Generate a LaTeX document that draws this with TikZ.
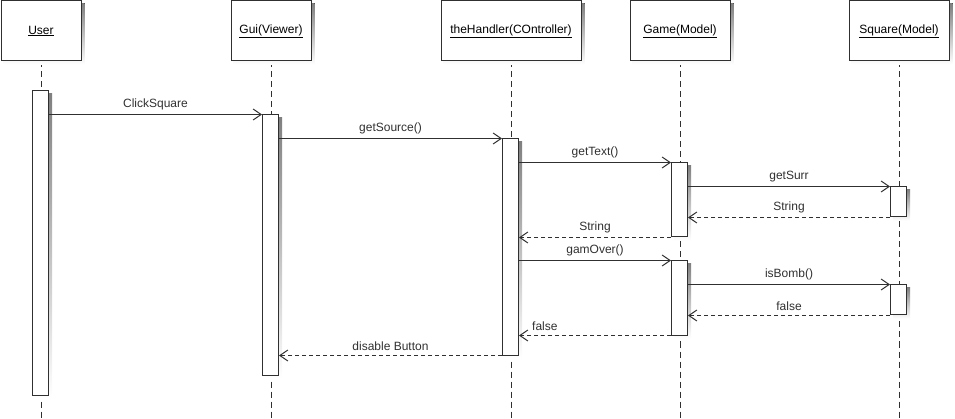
\documentclass[tikz,border=0pt]{standalone}
\usepackage{fontspec}
\setmainfont{Liberation Sans}
\usetikzlibrary{arrows.meta,backgrounds}
\definecolor{ink}{HTML}{303030}
\definecolor{shade}{HTML}{C0C0C0}
\newcommand{\shadowof}[1]{\fill[shade] ([shift={(3,3)}]#1.north west) rectangle ([shift={(3,3)}]#1.south east);}
\begin{document}
\begin{tikzpicture}[x=1pt,y=-1pt,line width=1pt,
  font=\fontsize{12}{14}\selectfont,
  head/.style={draw=ink,fill=white,minimum height=60pt,inner sep=0pt,anchor=north west},
  bar/.style={draw=ink,fill=white,minimum width=16pt,inner sep=0pt,anchor=north},
  life/.style={draw=ink,dash pattern=on 6pt off 4pt},
  msg/.style={draw=ink,-{Straight Barb[length=8pt,width=11pt,line width=1pt]}},
  ret/.style={msg,dash pattern=on 4pt off 3pt},
  lbl/.style={text=ink,inner sep=0pt}]
\useasboundingbox (0,0) rectangle (955,419);
% heads
\node[head,minimum width=80pt] (user) at (0.5,0.5) {\underline{User}};
\node[head,minimum width=80pt] (gui) at (230.5,0.5) {\underline{Gui(Viewer)}};
\node[head,minimum width=140pt] (hand) at (440.5,0.5) {\underline{theHandler(COntroller)}};
\node[head,minimum width=100pt] (game) at (629.5,0.5) {\underline{Game(Model)}};
\node[head,minimum width=100pt] (sq) at (848.5,0.5) {\underline{Square(Model)}};
% lifeline ends
\coordinate (uEnd) at (user.south |- 0,419);
\coordinate (gEnd) at (gui.south |- 0,419);
\coordinate (hEnd) at (hand.south |- 0,419);
\coordinate (mEnd) at (game.south |- 0,419);
\coordinate (sEnd) at (sq.south |- 0,419);
\begin{scope}[on background layer]
\draw[life] (user.south) -- (uEnd);
\draw[life] (gui.south) -- (gEnd);
\draw[life] (hand.south) -- (hEnd);
\draw[life] (game.south) -- (mEnd);
\draw[life] (sq.south) -- (sEnd);
\end{scope}
% activation bars
\node[bar,minimum height=304pt] (ub) at (40.5,90.5) {};
\node[bar,minimum height=260pt] (gb) at (270.5,114.5) {};
\node[bar,minimum height=216pt] (hb) at (510.5,138.5) {};
\node[bar,minimum height=74pt] (mb1) at (679.5,162.5) {};
\node[bar,minimum height=74pt] (mb2) at (679.5,260.5) {};
\node[bar,minimum height=30pt] (sb1) at (898.5,186.5) {};
\node[bar,minimum height=30pt] (sb2) at (898.5,284.5) {};
\begin{scope}[on background layer]
\shadowof{user}\shadowof{gui}\shadowof{hand}\shadowof{game}\shadowof{sq}
\shadowof{ub}\shadowof{gb}\shadowof{hb}\shadowof{mb1}\shadowof{mb2}\shadowof{sb1}\shadowof{sb2}
\end{scope}
% messages
\draw[msg] (ub.east |- gb.north) -- node[lbl,above=4pt] {ClickSquare} (gb.north west);
\draw[msg] (gb.east |- hb.north) -- node[lbl,above=4pt] {getSource()} (hb.north west);
\draw[msg] (hb.east |- mb1.north) -- node[lbl,above=4pt] {getText()} (mb1.north west);
\draw[msg] (mb1.east |- sb1.north) -- node[lbl,above=4pt] {getSurr} (sb1.north west);
\draw[ret] (sb1.south west) -- node[lbl,above=4pt] {String} (mb1.east |- sb1.south);
\draw[ret] (mb1.south west) -- node[lbl,above=4pt] {String} (hb.east |- mb1.south);
\draw[msg] (hb.east |- mb2.north) -- node[lbl,above=4pt] {gamOver()} (mb2.north west);
\draw[msg] (mb2.east |- sb2.north) -- node[lbl,above=4pt] {isBomb()} (sb2.north west);
\draw[ret] (sb2.south west) -- node[lbl,above=4pt] {false} (mb2.east |- sb2.south);
\draw[ret] (mb2.south west) -- node[lbl,above=4pt,pos=0.83] {false} (hb.east |- mb2.south);
\draw[ret] (hb.south west) -- node[lbl,above=4pt] {disable Button} (gb.east |- hb.south);
\end{tikzpicture}
\end{document}
